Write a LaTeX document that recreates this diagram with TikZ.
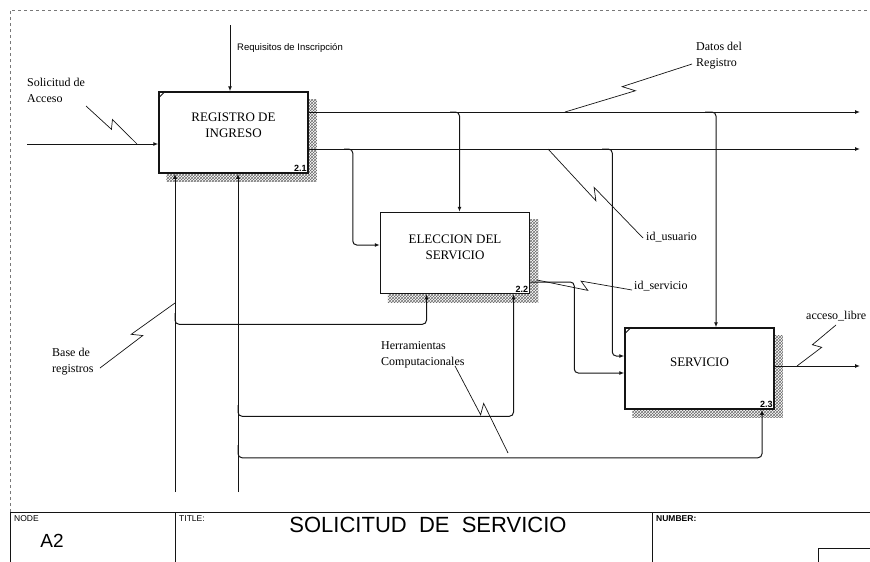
\documentclass[tikz,border=0pt]{standalone}
\usepackage{fontspec}
\setmainfont{Liberation Serif}
\setsansfont{Liberation Sans}
\usepackage{tikz}
\usetikzlibrary{arrows.meta,positioning,calc,backgrounds,patterns}
\usepackage{xcolor}
\definecolor{inkblack}{RGB}{20,20,20}
\definecolor{framegray}{RGB}{120,120,120}
\definecolor{hatchgray}{RGB}{110,110,110}
\tikzset{
  actbox/.style={rectangle, draw=inkblack, line width=1.5pt, fill=white,
                 minimum width=149pt, minimum height=81pt, inner sep=0pt},
  boxtext/.style={align=center, inner sep=0pt, font=\fontsize{13}{16}\selectfont},
  boxnum/.style={anchor=south east, inner sep=2pt, font=\sffamily\bfseries\fontsize{9}{10}\selectfont},
  flow/.style={-{Latex[length=5pt,width=4pt]}, line width=1pt, inkblack, rounded corners=4pt},
  squigline/.style={line width=0.7pt, inkblack},
  tag/.style={anchor=north west, align=left, inner sep=0pt, font=\fontsize{12}{16}\selectfont},
  ctltag/.style={anchor=north west, inner sep=0pt, font=\sffamily\fontsize{9.5}{11}\selectfont},
  sanstag/.style={anchor=north west, inner sep=0pt, font=\sffamily\fontsize{8.5}{9}\selectfont},
  shadowfill/.style={pattern=crosshatch, pattern color=hatchgray},
  frameline/.style={line width=1pt, inkblack},
}
\newcommand{\squig}[2]{%
  \draw[squigline] (#1) -- ($(#1)!0.54!(#2)!-3.5pt!90:(#2)$)
    -- ($(#1)!0.46!(#2)!5pt!90:(#2)$) -- (#2);}

\begin{document}
\begin{tikzpicture}[x=1pt, y=-1pt]
\useasboundingbox (0,0) rectangle (870,562);

% sheet frame
\draw[framegray, dashed, thin] (10,512) -- (10,10) -- (870,10);
\draw[frameline] (10,512) -- (10,562) (10,512) -- (870,512);
\draw[frameline] (175,512) -- (175,562) (652,512) -- (652,562);
\draw[frameline] (870,548) -- (818,548) -- (818,562);

% activity boxes
\node[actbox] (reg) at (233.5,132.5) {};
\node[actbox, below right=38pt and 71pt of reg] (elec) {};
\node[actbox, below right=33pt and 94pt of elec] (serv) {};
\begin{scope}[on background layer]
  \foreach \b in {reg,elec,serv}
    \fill[shadowfill] ($(\b.north west)+(8,8)$) rectangle ($(\b.south east)+(8,8)$);
\end{scope}
\node[boxtext] (regtxt) at ($(reg.center)+(0,-7)$) {REGISTRO DE\\INGRESO};
\node[boxtext] (electxt) at ($(elec.center)+(0,-6)$) {ELECCION DEL\\SERVICIO};
\node[boxtext] (servtxt) at ($(serv.center)+(0,-6)$) {SERVICIO};
\node[boxnum] (regnum) at (reg.south east) {2.1};
\node[boxnum] (elecnum) at (elec.south east) {2.2};
\node[boxnum] (servnum) at (serv.south east) {2.3};
\foreach \b in {reg,serv}
  \draw[inkblack, line width=1pt] ($(\b.north west)+(0,7)$) -- ($(\b.north west)+(7,0)$);

% free ends and branch points
\coordinate (inA) at (27,144);
\coordinate (ctlA) at (230,25);
\coordinate (outA) at (860,112);
\coordinate (outB) at (860,149);
\coordinate (outC) at (860,366);
\coordinate (mechA) at (175,492);
\coordinate (mechB) at (238,492);
\coordinate (brA1) at (450,112);
\coordinate (brA2) at (705,112);
\coordinate (brB1) at (344,149);
\coordinate (brB2) at (602,149);
\coordinate (brM1) at (175,313);
\coordinate (brM2) at (238,405);
\coordinate (brM3) at (238,445);

% boundary arrows
\draw[flow] (inA) -- (inA -| reg.west);
\draw[flow] (ctlA) -- (ctlA |- reg.north);
\draw[flow] (outA -| reg.east) -- (outA);
\draw[flow] (outB -| reg.east) -- (outB);
\draw[flow] (outC -| serv.east) -- (outC);
\draw[flow] (mechA) -- (mechA |- reg.south);
\draw[flow] (mechB) -- (mechB |- reg.south);

% internal arrows
\draw[flow] (brA1) -| ($(elec.north)+(4.5,0)$);
\draw[flow] (brA2) -| ($(serv.north)+(16.5,0)$);
\draw[flow] (brB1) -| ($(elec.west)+(-27,-8)$) -- ($(elec.west)+(0,-8)$);
\draw[flow] (brB2) -| ($(serv.west)+(-12,-12.5)$) -- ($(serv.west)+(0,-12.5)$);
\draw[flow] ($(elec.east)+(0,29)$) -| ($(serv.west)+(-50,4.5)$) -- ($(serv.west)+(0,4.5)$);
\draw[flow] (brM1) |- ($(elec.south)+(-28.5,30)$) -- ($(elec.south)+(-28.5,0)$);
\draw[flow] (brM2) |- ($(elec.south)+(58.5,122)$) -- ($(elec.south)+(58.5,0)$);
\draw[flow] (brM3) |- ($(serv.south)+(62.5,48)$) -- ($(serv.south)+(62.5,0)$);

% arrow labels
\node[ctltag] (requisitos) at (237,43) {Requisitos de Inscripción};
\node[tag] (solicitud) at (27,78) {Solicitud de\\Acceso};
\node[tag] (datos) at (696,42) {Datos del\\Registro};
\node[tag] (idusuario) at (646,232) {id\_usuario};
\node[tag] (idservicio) at (634,281) {id\_servicio};
\node[tag] (acceso) at (806,311) {acceso\_libre};
\node[tag] (herram) at (381,341) {Herramientas\\Computacionales};
\node[tag] (base) at (52,348) {Base de\\registros};
\squig{86,106}{137,144}
\squig{692,64}{565,112}
\squig{643,238}{548,149}
\squig{632,290}{537,280}
\squig{836,325}{797,366}
\squig{455,366}{508,453}
\squig{100,368}{175,303}

% title block
\node[sanstag] (nodehead) at (14,515) {NODE};
\node[sanstag] (titlehead) at (179,515) {TITLE:};
\node[sanstag, font=\sffamily\bfseries\fontsize{8.5}{9}\selectfont] (numhead) at (656,515) {NUMBER:};
\node[font=\sffamily\fontsize{19}{21}\selectfont] (nodeid) at (52,541) {A2};
\node[font=\sffamily\fontsize{22}{24}\selectfont] (title) at (428,525) {SOLICITUD\ \ DE\ \ SERVICIO};
\end{tikzpicture}
\end{document}
